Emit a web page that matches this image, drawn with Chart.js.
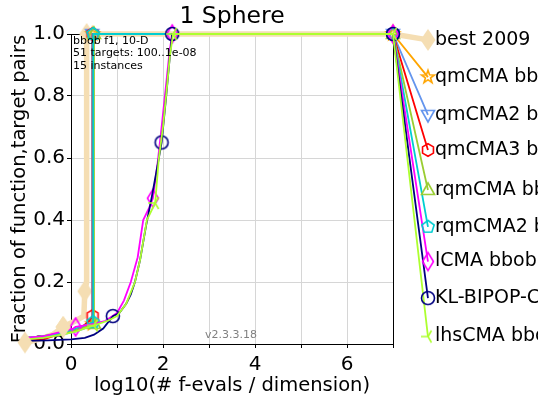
<!DOCTYPE html>
<html>
<head>
<meta charset="utf-8">
<script src="https://cdn.jsdelivr.net/npm/chart.js@4/dist/chart.umd.min.js"></script>
<style>
  html, body { margin: 0; padding: 0; background: #fff; }
  #wrap { width: 538px; height: 398px; }
</style>
</head>
<body>
<div id="wrap"><canvas id="c" width="538" height="398"></canvas></div>
<script>
// Runtime ECDF, bbob f1 (Sphere), 10-D: [log10(#f-evals / dim), fraction of (function,target) pairs]
const algNames = ['best 2009', 'qmCMA bbob', 'qmCMA2 bbob', 'qmCMA3 bbob', 'rqmCMA bbob',
                  'rqmCMA2 bbob', 'lCMA bbob', 'KL-BIPOP-CMA', 'lhsCMA bbob'];

const best2009 = [[-1, 0.005], [-0.7, 0.015], [-0.4, 0.03], [-0.17, 0.055], [0.1, 0.075],
                  [0.28, 0.09], [0.3, 0.17], [0.34, 0.2], [0.34, 1.0], [7, 1.0]];
const qmCMA    = [[-1, 0.02], [-0.6, 0.025], [-0.2, 0.035], [0.1, 0.045], [0.3, 0.055],
                  [0.47, 0.065], [0.47, 1.0], [7, 1.0]];
const qmCMA2   = [[-1, 0.02], [-0.6, 0.02], [-0.2, 0.03], [0.1, 0.04], [0.3, 0.05],
                  [0.46, 0.06], [0.46, 1.0], [7, 1.0]];
const qmCMA3   = [[-1, 0.01], [-0.6, 0.015], [-0.3, 0.03], [0, 0.04], [0.2, 0.05],
                  [0.4, 0.075], [0.47, 0.09], [0.47, 1.0], [7, 1.0]];
const rqmCMA   = [[-1, 0.02], [-0.6, 0.025], [-0.2, 0.035], [0.1, 0.045], [0.35, 0.055],
                  [0.5, 0.065], [0.5, 1.0], [7, 1.0]];
const rqmCMA2  = [[-1, 0.02], [-0.6, 0.025], [-0.2, 0.035], [0.1, 0.05], [0.3, 0.06],
                  [0.48, 0.07], [0.48, 1.0], [7, 1.0]];
const lCMA     = [[-1, 0.02], [-0.6, 0.025], [-0.2, 0.04], [0.05, 0.05], [0.1, 0.055],
                  [0.3, 0.06], [0.5, 0.065], [0.75, 0.075], [1.0, 0.1], [1.15, 0.14],
                  [1.3, 0.2], [1.45, 0.28], [1.57, 0.4], [1.7, 0.44], [1.78, 0.47],
                  [1.88, 0.58], [1.97, 0.7], [2.07, 0.84], [2.14, 0.94], [2.2, 1.0], [7, 1.0]];
const klBipop  = [[-1, 0.01], [-0.5, 0.012], [0, 0.015], [0.3, 0.02], [0.5, 0.03],
                  [0.7, 0.05], [0.91, 0.09], [1.05, 0.1], [1.2, 0.13], [1.3, 0.16],
                  [1.39, 0.2], [1.5, 0.27], [1.63, 0.38], [1.75, 0.47], [1.85, 0.55],
                  [1.91, 0.6], [1.97, 0.65], [2.07, 0.8], [2.15, 0.93], [2.2, 1.0], [7, 1.0]];
const lhsCMA   = [[-1, 0.015], [-0.6, 0.02], [-0.2, 0.03], [0.1, 0.04], [0.3, 0.05],
                  [0.5, 0.06], [0.8, 0.075], [1.0, 0.09], [1.2, 0.13], [1.39, 0.2],
                  [1.5, 0.27], [1.65, 0.4], [1.83, 0.455], [1.91, 0.6], [2.0, 0.7],
                  [2.08, 0.82], [2.15, 0.93], [2.22, 1.0], [7, 1.0]];

const allRuns = [best2009, qmCMA, qmCMA2, qmCMA3, rqmCMA, rqmCMA2, lCMA, klBipop, lhsCMA];

// indices of the points that carry a marker
const markIdx = [[0, 3, 6, 8, 9], [5, 6, 7], [6, 7], [6, 7, 8], [5, 6, 7], [5, 6, 7],
                 [4, 14, 19, 20], [6, 16, 19, 20], [5, 12, 17, 18]];

// each curve ends at its label, right of the axes
const labelX = 7.76;
const labelY = [0.981, 0.861, 0.739, 0.626, 0.497, 0.378, 0.266, 0.148, 0.024];

const colors = ['#f5deb3', '#ffa500', '#6495ed', '#ff0000', '#9acd32',
                '#00ced1', '#ff00ff', '#000080', '#adff2f'];
const shapes = ['bigDiamond', 'star', 'triDown', 'hexagon', 'triUp',
                'pentagon', 'thinDiamond', 'circle', 'triLeft'];

function makeMarker(shape, color) {
  const S = 26, c = S / 2;
  const cv = document.createElement('canvas');
  cv.width = S; cv.height = S;
  const g = cv.getContext('2d');
  g.strokeStyle = color; g.fillStyle = color; g.lineWidth = 1.6; g.lineJoin = 'miter';
  const poly = (pts) => { g.beginPath(); pts.forEach((p, i) => i ? g.lineTo(c + p[0], c + p[1]) : g.moveTo(c + p[0], c + p[1])); g.closePath(); };
  const ngon = (n, r, rot) => { const p = []; for (let i = 0; i < n; i++) { const a = rot + i * 2 * Math.PI / n; p.push([r * Math.cos(a), r * Math.sin(a)]); } return p; };
  switch (shape) {
    case 'bigDiamond': poly([[0, -11], [7.5, 0], [0, 11], [-7.5, 0]]); g.fill(); break;
    case 'star': {
      const p = [];
      for (let i = 0; i < 10; i++) { const r = i % 2 ? 2.7 : 6.8; const a = -Math.PI / 2 + i * Math.PI / 5; p.push([r * Math.cos(a), r * Math.sin(a)]); }
      poly(p); g.stroke(); break;
    }
    case 'triDown': poly([[-6.5, -4.5], [6.5, -4.5], [0, 7]]); g.stroke(); break;
    case 'triUp': poly([[-6.5, 4.5], [6.5, 4.5], [0, -7]]); g.stroke(); break;
    case 'hexagon': poly(ngon(6, 6.3, -Math.PI / 2)); g.stroke(); break;
    case 'pentagon': poly(ngon(5, 6.5, -Math.PI / 2)); g.stroke(); break;
    case 'thinDiamond': poly([[0, -9], [5.5, 0], [0, 9], [-5.5, 0]]); g.stroke(); break;
    case 'circle': g.beginPath(); g.arc(c, c, 6.5, 0, 2 * Math.PI); g.stroke(); break;
    case 'triLeft':
      g.beginPath();
      g.moveTo(c, c); g.lineTo(c - 7, c);
      g.moveTo(c, c); g.lineTo(c + 3.5, c - 6);
      g.moveTo(c, c); g.lineTo(c + 3.5, c + 6);
      g.stroke(); break;
  }
  return cv;
}

const datasets = allRuns.map((run, k) => {
  const pts = run.map(([x, y]) => ({ x, y }));
  pts.push({ x: labelX, y: labelY[k] });
  const marks = markIdx[k].concat([pts.length - 1]);
  return {
    label: algNames[k],
    data: pts,
    borderColor: colors[k],
    borderWidth: k === 0 ? 5.5 : 1.8,
    tension: 0,
    clip: false,
    order: allRuns.length - k,
    pointStyle: makeMarker(shapes[k], colors[k]),
    pointRadius: (ctx) => marks.includes(ctx.dataIndex) ? 6 : 0,
    pointHoverRadius: 0
  };
});

const FONT = 'DejaVu Sans';

// frame on all four sides of the axes
const framePlugin = {
  id: 'frame',
  beforeDatasetsDraw(chart) {
    const { ctx, chartArea: a } = chart;
    ctx.save();
    ctx.strokeStyle = '#000'; ctx.lineWidth = 1;
    ctx.strokeRect(a.left + 0.5, a.top + 0.5, a.right - a.left, a.bottom - a.top);
    ctx.restore();
  }
};

// markers that sit outside the axes (curve starts and label ends)
const outerMarkers = {
  id: 'outerMarkers',
  afterDatasetsDraw(chart) {
    const a = chart.chartArea;
    const wide = { left: -1e4, top: -1e4, right: 1e4, bottom: 1e4 };
    const metas = chart.getSortedVisibleDatasetMetas();
    for (let i = metas.length - 1; i >= 0; i--) {
      metas[i].data.forEach((el) => {
        if (el.options.radius < 0.1) return;
        const inside = el.x >= a.left - 3 && el.x <= a.right + 3 && el.y >= a.top - 3 && el.y <= a.bottom + 3;
        if (!inside) el.draw(chart.ctx, wide);
      });
    }
  }
};

// title, run info, version stamp and curve labels
const textPlugin = {
  id: 'texts',
  afterDraw(chart) {
    const { ctx, chartArea: a } = chart;
    ctx.save();
    ctx.fillStyle = '#000';
    ctx.textBaseline = 'middle';
    ctx.textAlign = 'center';
    ctx.font = `23.5px "${FONT}"`;
    ctx.fillText('1 Sphere', (a.left + a.right) / 2, 17);

    ctx.textAlign = 'left';
    ctx.font = `11px "${FONT}"`;
    ['bbob f1, 10-D', '51 targets: 100..1e-08', '15 instances'].forEach((t, i) => {
      ctx.fillText(t, a.left + 2, 41 + i * 12.5);
    });

    ctx.fillStyle = '#808080';
    ctx.font = `11px "${FONT}"`;
    ctx.fillText('v2.3.3.18', 205, 335);

    ctx.fillStyle = '#000';
    ctx.font = `19px "${FONT}"`;
    chart.getSortedVisibleDatasetMetas().forEach((m) => {
      const last = m.data[m.data.length - 1];
      ctx.fillText(chart.data.datasets[m.index].label, last.x + 7, last.y);
    });
    ctx.restore();
  }
};

new Chart(document.getElementById('c'), {
  type: 'line',
  data: { datasets },
  plugins: [framePlugin, outerMarkers, textPlugin],
  options: {
    responsive: false,
    animation: false,
    events: [],
    layout: { padding: { top: 34, right: 145, bottom: 0, left: 0 } },
    plugins: { legend: { display: false }, tooltip: { enabled: false }, title: { display: false } },
    scales: {
      x: {
        type: 'linear',
        // range fixed after the data limits, so the label segments beyond 7 are still drawn
        afterDataLimits: (s) => { s.min = 0; s.max = 7; },
        afterFit: (s) => { s.height = 54; },
        ticks: {
          stepSize: 1, autoSkip: false, maxRotation: 0, padding: 5, color: '#000',
          font: { family: FONT, size: 20 },
          callback: (v) => (v % 2 === 0 && v < 7) ? String(v) : ''
        },
        grid: { color: '#d6d6d6', lineWidth: 1, tickLength: 4, tickColor: '#000' },
        border: { display: true, color: '#000', width: 1 },
        title: { display: true, text: 'log10(# f-evals / dimension)', color: '#000',
                 font: { family: FONT, size: 19.5 }, padding: { top: 0, bottom: 0 } }
      },
      y: {
        type: 'linear', min: 0, max: 1,
        afterFit: (s) => { s.width = 71; },
        ticks: {
          stepSize: 0.2, padding: 2, color: '#000',
          font: { family: FONT, size: 20 },
          callback: (v) => v.toFixed(1)
        },
        grid: { color: '#d6d6d6', lineWidth: 1, tickLength: 4, tickColor: '#000' },
        border: { display: true, color: '#000', width: 1 },
        title: { display: true, text: 'Fraction of function,target pairs', color: '#000',
                 font: { family: FONT, size: 19.5 }, padding: { top: 8, bottom: 0 } }
      }
    }
  }
});
</script>
</body>
</html>
